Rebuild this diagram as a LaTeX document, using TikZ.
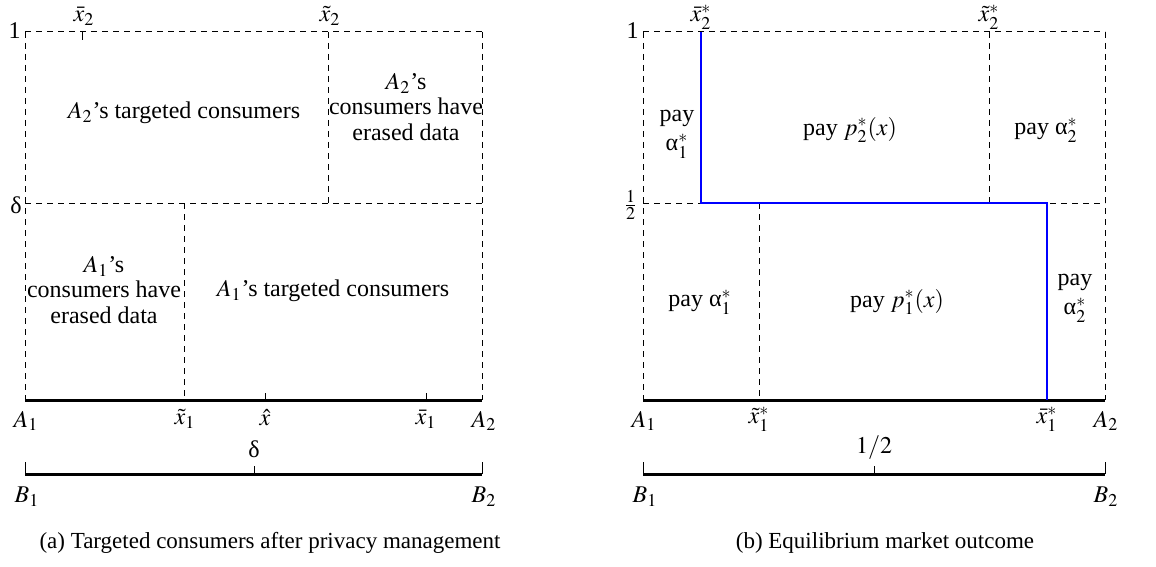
\documentclass[tikz,border=0pt]{standalone}
\usepackage{mathptmx}
\usepackage{fontspec}
\setmainfont{Liberation Serif}
\newcommand{\ga}{\mbox{α}}
\begin{document}
\begin{tikzpicture}[x=0.5pt,y=-0.5pt,
  grid/.style={dashed,dash pattern=on 3pt off 2.5pt,line width=0.5pt},
  axis/.style={line width=1.5pt},
  tick/.style={line width=0.5pt},
  eq/.style={blue,line width=1.1pt},
  lab/.style={inner sep=0pt,font=\fontsize{12}{13}\selectfont},
  txt/.style={inner sep=0pt,align=center,font=\fontsize{12}{12.8}\selectfont},
  captext/.style={inner sep=0pt,font=\fontsize{11.5}{13}\selectfont}]
\useasboundingbox (0,0) rectangle (1156,567);
% ---------- left panel ----------
\coordinate (a1) at (25,32);  \coordinate (a2) at (482,32);
\coordinate (ad1) at (25,203); \coordinate (ad2) at (482,203);
\coordinate (aA1) at (25,400); \coordinate (aA2) at (482,400);
\coordinate (axt2) at (328,32); \coordinate (axt2b) at (328,203);
\coordinate (axt1) at (184,203); \coordinate (axt1b) at (184,400);
\draw[grid] (a1) -- (a2);
\draw[grid] (ad1) -- (ad2);
\draw[grid] (a1) -- (aA1);
\draw[grid] (a2) -- (aA2);
\draw[grid] (axt2) -- (axt2b);
\draw[grid] (axt1) -- (axt1b);
\coordinate (axb2) at (82,32); \coordinate (axb2e) at (82,40);
\draw[tick] (axb2) -- (axb2e);
\draw[axis] (aA1) -- (aA2);
\coordinate (axh) at (265,400); \coordinate (axhe) at (265,393);
\coordinate (axb1) at (426,400); \coordinate (axb1e) at (426,393);
\draw[tick] (axh) -- (axhe);
\draw[tick] (axb1) -- (axb1e);
\coordinate (aB1) at (25,474); \coordinate (aB2) at (482,474);
\coordinate (aB1t) at (25,462); \coordinate (aB2t) at (482,462);
\coordinate (aBm) at (254,474); \coordinate (aBmt) at (254,466);
\draw[axis] (aB1) -- (aB2);
\draw[tick] (aB1) -- (aB1t);
\draw[tick] (aB2) -- (aB2t);
\draw[tick] (aBm) -- (aBmt);
\node[lab,anchor=east] (aone) at (21,31) {1};
\node[lab,anchor=east] (adel) at (22,205) {δ};
\node[lab] (lxb2) at (84,16) {$\bar{x}_2$};
\node[lab] (lxt2) at (330,16) {$\tilde{x}_2$};
\node[lab] (lA1) at (26,421) {$A_1$};
\node[lab] (lxt1) at (185,419) {$\tilde{x}_1$};
\node[lab] (lxh) at (265,418) {$\hat{x}$};
\node[lab] (lxb1) at (426,419) {$\bar{x}_1$};
\node[lab] (lA2) at (484,421) {$A_2$};
\node[lab] (ldel) at (254,449) {δ};
\node[lab] (lB1) at (27,497) {$B_1$};
\node[lab] (lB2) at (484,497) {$B_2$};
\node[txt] (t1) at (184,113) {$A_2$'s targeted consumers};
\node[txt] (t2) at (406,107) {$A_2$'s\\consumers have\\erased data};
\node[txt] (t3) at (104,290) {$A_1$'s\\consumers have\\erased data};
\node[txt] (t4) at (333,291) {$A_1$'s targeted consumers};
\node[captext] (capa) at (270,543) {(a) Targeted consumers after privacy management};
% ---------- right panel ----------
\coordinate (b1) at (643,32);  \coordinate (b2) at (1105,32);
\coordinate (bd1) at (643,203); \coordinate (bd2) at (1105,203);
\coordinate (bA1) at (643,400); \coordinate (bA2) at (1105,400);
\coordinate (bxt2) at (989,32); \coordinate (bxt2b) at (989,203);
\coordinate (bxt1) at (759,203); \coordinate (bxt1b) at (759,400);
\draw[grid] (b1) -- (b2);
\draw[grid] (bd1) -- (bd2);
\draw[grid] (b1) -- (bA1);
\draw[grid] (b2) -- (bA2);
\draw[grid] (bxt2) -- (bxt2b);
\draw[grid] (bxt1) -- (bxt1b);
\draw[axis] (bA1) -- (bA2);
\coordinate (e1) at (701,32); \coordinate (e2) at (701,203);
\coordinate (e3) at (1047,203); \coordinate (e4) at (1047,400);
\draw[eq] (e1) -- (e2) -- (e3) -- (e4);
\coordinate (bB1) at (643,474); \coordinate (bB2) at (1105,474);
\coordinate (bB1t) at (643,462); \coordinate (bB2t) at (1105,462);
\coordinate (bBm) at (874,474); \coordinate (bBmt) at (874,466);
\draw[axis] (bB1) -- (bB2);
\draw[tick] (bB1) -- (bB1t);
\draw[tick] (bB2) -- (bB2t);
\draw[tick] (bBm) -- (bBmt);
\node[lab,anchor=east] (bone) at (639,31) {1};
\node[lab,anchor=east] (bhalf) at (638,205) {$\frac{1}{2}$};
\node[lab] (rxb2) at (701,17) {$\bar{x}_2^*$};
\node[lab] (rxt2) at (989,17) {$\tilde{x}_2^*$};
\node[lab] (rA1) at (644,421) {$A_1$};
\node[lab] (rxt1) at (759,419) {$\tilde{x}_1^*$};
\node[lab] (rxb1) at (1047,419) {$\bar{x}_1^*$};
\node[lab] (rA2) at (1106,421) {$A_2$};
\node[lab] (rhalf) at (874,448) {$1/2$};
\node[lab] (rB1) at (645,497) {$B_1$};
\node[lab] (rB2) at (1106,497) {$B_2$};
\node[txt] (u1) at (677,134) {pay\\[2pt]$\ga_1^*$};
\node[txt] (u2) at (850,130) {pay $p_2^*(x)$};
\node[txt] (u3) at (1046,130) {pay $\ga_2^*$};
\node[txt] (u4) at (700,302) {pay $\ga_1^*$};
\node[txt] (u5) at (897,302) {pay $p_1^*(x)$};
\node[txt] (u6) at (1075,298) {pay\\[2pt]$\ga_2^*$};
\node[captext] (capb) at (885,543) {(b) Equilibrium market outcome};
\end{tikzpicture}
\end{document}
